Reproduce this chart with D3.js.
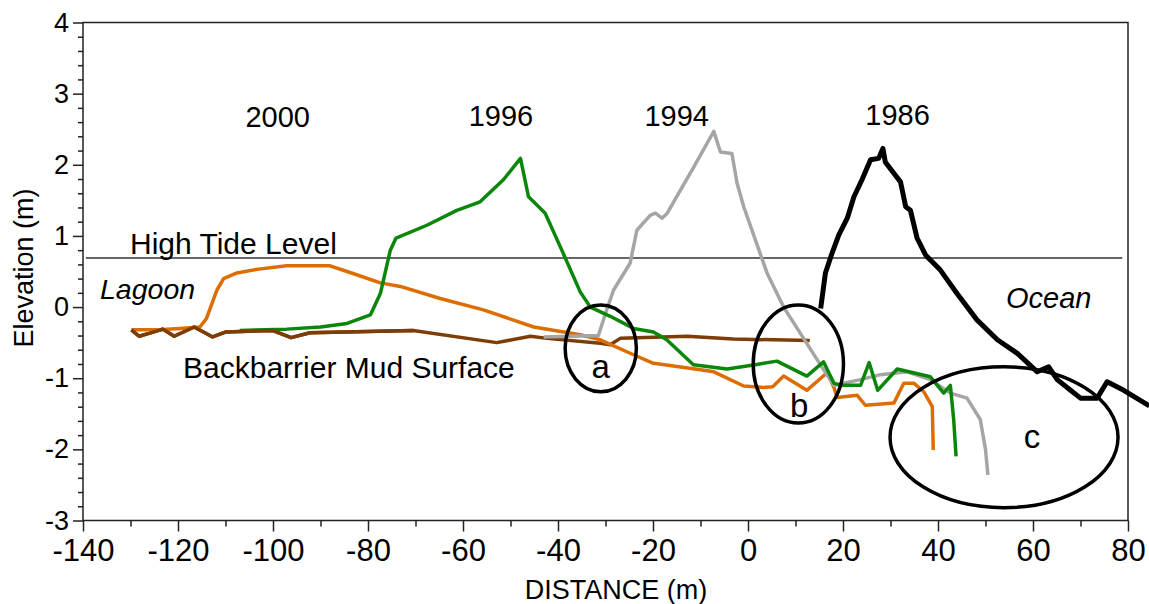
<!DOCTYPE html>
<html>
<head>
<meta charset="utf-8">
<script src="https://cdn.jsdelivr.net/npm/d3@7"></script>
<style>
  html, body { margin: 0; padding: 0; background: #fff; }
  svg text { font-family: "Liberation Sans", Arial, sans-serif; fill: #000; }
</style>
</head>
<body>
<div id="chart"></div>
<script>
// profile data: [distance (m), elevation (m)]
const mud = [[-129.8,-0.32],[-128.2,-0.41],[-126.1,-0.37],[-123.2,-0.31],[-120.8,-0.41],[-116.6,-0.28],
  [-112.7,-0.42],[-109.9,-0.35],[-100,-0.33],[-96.2,-0.43],[-92.2,-0.36],[-70.5,-0.33],[-52.9,-0.50],
  [-45.8,-0.41],[-42.3,-0.44],[-31.1,-0.51],[-29,-0.53],[-26.9,-0.44],[-12.8,-0.41],[-3.1,-0.45],[13,-0.47]];

const y2000 = [[-129.8,-0.32],[-124,-0.32],[-119.6,-0.30],[-115.4,-0.28],[-114,-0.16],[-111.8,0.24],
  [-110.4,0.40],[-107.6,0.48],[-103.4,0.53],[-97.1,0.58],[-88,0.58],[-84.4,0.50],[-77.4,0.34],
  [-73.2,0.29],[-64.8,0.12],[-55.7,-0.04],[-45.1,-0.28],[-35.3,-0.39],[-31.1,-0.46],[-24.1,-0.67],
  [-19.9,-0.79],[-10,-0.88],[-7.2,-0.91],[-0.9,-1.11],[3.3,-1.13],[5.2,-1.12],[7.5,-0.97],[12.4,-1.17],
  [16.7,-0.92],[18.1,-1.13],[18.8,-1.27],[23,-1.24],[24.7,-1.38],[30.7,-1.35],[32.8,-1.07],
  [34.9,-1.07],[37,-1.19],[38.8,-1.40],[39,-2.01]];

const y1996 = [[-107,-0.33],[-97.1,-0.31],[-90,-0.28],[-84.4,-0.23],[-79.5,-0.11],[-77.4,0.19],
  [-75.3,0.80],[-74.1,0.97],[-67.6,1.15],[-61.3,1.36],[-56.4,1.48],[-51.5,1.79],[-47.9,2.09],
  [-46.2,1.55],[-42.7,1.32],[-39.2,0.80],[-35.3,0.21],[-33.2,0.0],[-29,-0.13],[-24.1,-0.30],
  [-19.9,-0.35],[-17.1,-0.46],[-11.5,-0.81],[-4.4,-0.87],[1.5,-0.81],[6.1,-0.76],[12.4,-0.97],
  [15.9,-0.77],[18.1,-1.07],[19.5,-1.10],[23.7,-1.10],[25.5,-0.78],[27.3,-1.17],[31.4,-0.87],
  [38.4,-0.98],[41.2,-1.21],[42.6,-1.10],[43.3,-1.58],[43.8,-2.10]];

const y1994 = [[-43,-0.42],[-31.5,-0.40],[-30,-0.09],[-28.3,0.24],[-24.8,0.62],[-23.4,1.08],
  [-20.6,1.29],[-19.5,1.32],[-18.1,1.25],[-17,1.32],[-11.4,1.97],[-7.2,2.47],[-5.8,2.18],
  [-3.4,2.16],[-2.3,1.74],[-0.9,1.41],[4,0.48],[7.5,0.0],[15.9,-0.88],[18.1,-1.10],[23.7,-1.02],
  [27.9,-0.95],[33.5,-0.91],[38.4,-1.02],[42.6,-1.21],[46.1,-1.28],[48.9,-1.58],[50,-2.0],[50.5,-2.36]];

const y1986 = [[15.3,-0.02],[16.3,0.48],[17.7,0.76],[19.1,1.01],[20.9,1.25],[22.3,1.55],[24,1.79],
  [25.8,2.07],[27.5,2.09],[28.4,2.23],[28.9,2.04],[30.7,1.88],[32.1,1.76],[33.2,1.41],[34.2,1.36],
  [35.6,0.97],[37.4,0.73],[40.5,0.52],[44,0.19],[48.2,-0.18],[52.5,-0.46],[56.7,-0.65],[60.9,-0.91],
  [63.3,-0.84],[65.1,-1.02],[67.9,-1.17],[70,-1.28],[73.5,-1.28],[75.6,-1.05],[79.1,-1.17],[84.5,-1.39]];

const highTide = 0.69;

const xTicks = [-140,-120,-100,-80,-60,-40,-20,0,20,40,60,80];
const xMinor = [-130,-110,-90,-70,-50,-30,-10,10,30,50,70];
const yTicks = [-3,-2,-1,0,1,2,3,4];
const yMinor = [-2.8,-2.6,-2.4,-2.2,-1.8,-1.6,-1.4,-1.2,-0.8,-0.6,-0.4,-0.2,
  0.2,0.4,0.6,0.8,1.2,1.4,1.6,1.8,2.2,2.4,2.6,2.8,3.2,3.4,3.6,3.8];

// year labels above the peaks
const yearLabels = [
  { text: "2000", x: -99, y: 2.53 },
  { text: "1996", x: -52, y: 2.54 },
  { text: "1994", x: -15, y: 2.54 },
  { text: "1986", x: 31.5, y: 2.56 }
];

// circled areas a, b, c: centre, radii (data units), label position
const circles = [
  { label: "a", cx: -31.0, cy: -0.58, rx: 7.5, ry: 0.61, lx: -31.0, ly: -0.99 },
  { label: "b", cx: 10.6, cy: -0.80, rx: 9.5, ry: 0.83, lx: 10.8, ly: -1.54 },
  { label: "c", cx: 53.9, cy: -1.83, rx: 24.0, ry: 0.99, lx: 59.8, ly: -1.98 }
];

const W = 1149, H = 604;
const margin = { left: 83, right: 21, top: 22.5, bottom: 83.5 };

const svg = d3.select("#chart").append("svg")
  .attr("width", W)
  .attr("height", H);

const x = d3.scaleLinear().domain([-140, 80]).range([margin.left, W - margin.right]);
const y = d3.scaleLinear().domain([-3, 4]).range([H - margin.bottom, margin.top]);

const fmt = d => d < 0 ? "-" + Math.abs(d) : String(d);

// frame
svg.append("rect")
  .attr("x", x(-140)).attr("y", y(4))
  .attr("width", x(80) - x(-140)).attr("height", y(-3) - y(4))
  .attr("fill", "none").attr("stroke", "#222").attr("stroke-width", 1.5);

// x axis
const xAxis = svg.append("g").attr("transform", `translate(0,${y(-3)})`);
xAxis.call(d3.axisBottom(x).tickValues(xTicks).tickSize(11).tickPadding(7).tickFormat(fmt));
xAxis.selectAll("text").style("font-size", "31px").attr("fill", "#000");
const xMinorG = xAxis.append("g").call(d3.axisBottom(x).tickValues(xMinor).tickSize(6));
xMinorG.selectAll("text").remove();
xAxis.selectAll(".domain").remove();
xAxis.selectAll("line").attr("stroke", "#222").attr("stroke-width", 1.5);

// y axis
const yAxis = svg.append("g").attr("transform", `translate(${x(-140)},0)`);
yAxis.call(d3.axisLeft(y).tickValues(yTicks).tickSize(10).tickPadding(4).tickFormat(fmt));
yAxis.selectAll("text").style("font-size", "27px").attr("fill", "#000");
const yMinorG = yAxis.append("g").call(d3.axisLeft(y).tickValues(yMinor).tickSize(5));
yMinorG.selectAll("text").remove();
yAxis.selectAll(".domain").remove();
yAxis.selectAll("line").attr("stroke", "#222").attr("stroke-width", 1.5);

// axis titles
svg.append("text")
  .attr("x", 616).attr("y", 599)
  .attr("text-anchor", "middle").style("font-size", "27px")
  .text("DISTANCE (m)");

svg.append("text")
  .attr("transform", `translate(33,${y(0.55)}) rotate(-90)`)
  .attr("text-anchor", "middle").style("font-size", "27px")
  .text("Elevation (m)");

// high tide line
svg.append("line")
  .attr("x1", x(-139.4)).attr("x2", x(78.8))
  .attr("y1", y(highTide)).attr("y2", y(highTide))
  .attr("stroke", "#333").attr("stroke-width", 1.5);

const line = d3.line().x(d => x(d[0])).y(d => y(d[1]));

const series = [
  { data: mud, color: "#7d3d06", width: 3.5 },
  { data: y2000, color: "#dd6d00", width: 3.5 },
  { data: y1994, color: "#a5a5a5", width: 3.5 },
  { data: y1996, color: "#0a870a", width: 3.5 },
  { data: y1986, color: "#000", width: 5 }
];

svg.selectAll("path.profile")
  .data(series)
  .enter()
  .append("path")
  .attr("class", "profile")
  .attr("d", d => line(d.data))
  .attr("fill", "none")
  .attr("stroke", d => d.color)
  .attr("stroke-width", d => d.width)
  .attr("stroke-linejoin", "round");

// brown mud line drawn again on top at the far left (it overlaps the others there)
svg.append("path")
  .attr("d", line(mud.slice(0, 12)))
  .attr("fill", "none").attr("stroke", "#7d3d06").attr("stroke-width", 3.5)
  .attr("stroke-linejoin", "round");

// circled areas
svg.selectAll("ellipse")
  .data(circles)
  .enter()
  .append("ellipse")
  .attr("cx", d => x(d.cx)).attr("cy", d => y(d.cy))
  .attr("rx", d => x(d.cx + d.rx) - x(d.cx))
  .attr("ry", d => y(d.cy - d.ry) - y(d.cy))
  .attr("fill", "none").attr("stroke", "#000").attr("stroke-width", 3.5);

svg.selectAll("text.circ")
  .data(circles)
  .enter()
  .append("text")
  .attr("class", "circ")
  .attr("x", d => x(d.lx)).attr("y", d => y(d.ly))
  .attr("text-anchor", "middle").style("font-size", "33px")
  .text(d => d.label);

// year labels
svg.selectAll("text.year")
  .data(yearLabels)
  .enter()
  .append("text")
  .attr("class", "year")
  .attr("x", d => x(d.x)).attr("y", d => y(d.y))
  .attr("text-anchor", "middle").style("font-size", "29px")
  .text(d => d.text);

// other labels
svg.append("text").attr("x", 130).attr("y", y(0.74)).style("font-size", "30px").text("High Tide Level");
svg.append("text").attr("x", 100).attr("y", y(0.12)).style("font-size", "28.5px").style("font-style", "italic").text("Lagoon");
svg.append("text").attr("x", 183).attr("y", y(-1.0)).style("font-size", "30px").text("Backbarrier Mud Surface");
svg.append("text").attr("x", 1006).attr("y", y(-0.01)).style("font-size", "29px").style("font-style", "italic").text("Ocean");
</script>
</body>
</html>
